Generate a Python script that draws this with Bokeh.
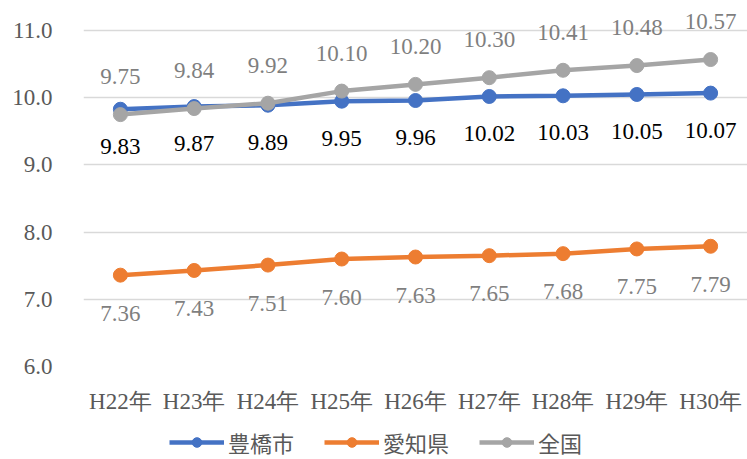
from bokeh.plotting import figure
from bokeh.layouts import column
from bokeh.models import ColumnDataSource, FactorRange, Range1d, FixedTicker, Legend, LegendItem, CustomJSTickFormatter
from bokeh.embed import file_html
from bokeh.resources import INLINE
from bokeh.core.properties import value

years = ["H22年", "H23年", "H24年", "H25年", "H26年", "H27年", "H28年", "H29年", "H30年"]
toyohashi = [9.83, 9.87, 9.89, 9.95, 9.96, 10.02, 10.03, 10.05, 10.07]
aichi = [7.36, 7.43, 7.51, 7.60, 7.63, 7.65, 7.68, 7.75, 7.79]
zenkoku = [9.75, 9.84, 9.92, 10.10, 10.20, 10.30, 10.41, 10.48, 10.57]
y_ticks = [6.0, 7.0, 8.0, 9.0, 10.0, 11.0]

FONT = "Liberation Serif"
TXT = "#595959"

p = figure(frame_width=664, frame_height=356,
           x_range=FactorRange(*years, range_padding=0),
           y_range=Range1d(6.0, 11.3), output_backend="svg", toolbar_location=None,
           min_border_left=83, min_border_right=0, min_border_top=10, min_border_bottom=0)
p.outline_line_color = None
p.background_fill_color = "white"

p.yaxis.ticker = FixedTicker(ticks=y_ticks)
p.yaxis.formatter = CustomJSTickFormatter(code="return tick.toFixed(1);")
for ax in (p.xaxis, p.yaxis):
    ax.axis_line_color = None
    ax.major_tick_line_color = None
    ax.minor_tick_line_color = None
    ax.major_tick_out = 0
    ax.major_tick_in = 0
    ax.major_label_text_font = FONT
    ax.major_label_text_color = TXT
    ax.major_label_text_font_size = "23px"
p.yaxis.major_label_standoff = 31
p.xaxis.major_label_standoff = 22

p.xgrid.grid_line_color = None
p.ygrid.grid_line_color = "#D9D9D9"
p.ygrid.grid_line_width = 1.3

series = [
    ("豊橋市", toyohashi, "#4472C4", "#000000", 37),
    ("愛知県", aichi, "#ED7D31", "#7F7F7F", 38),
    ("全国", zenkoku, "#A5A5A5", "#7F7F7F", -38),
]

# legend strip below the chart
lf = figure(width=747, height=44, output_backend="svg", toolbar_location=None,
            x_range=Range1d(0, 1), y_range=Range1d(0, 1),
            x_axis_type=None, y_axis_type=None,
            min_border_left=0, min_border_right=0, min_border_top=0, min_border_bottom=0)
lf.outline_line_color = None
lf.xgrid.grid_line_color = None
lf.ygrid.grid_line_color = None

items = []
for name, vals, col, lcol, off in series:
    src = ColumnDataSource(dict(x=years, y=vals, lab=[f"{v:.2f}" for v in vals]))
    p.line("x", "y", source=src, line_color=col, line_width=4.5)
    p.scatter("x", "y", source=src, size=14, fill_color=col, line_color=col)
    p.text("x", "y", text="lab", source=src, text_font=value(FONT), text_font_size="23px",
           text_color=lcol, text_align="center", text_baseline="middle", y_offset=off)
    # off-screen copies, only used to draw the legend glyphs
    hidden = ColumnDataSource(dict(x=[5, 6], y=[5, 6]))
    l = lf.line("x", "y", source=hidden, line_color=col, line_width=4.5)
    c = lf.scatter("x", "y", source=hidden, size=14, fill_color=col, line_color=col)
    items.append(LegendItem(label=name, renderers=[l, c]))

legend = Legend(items=items, orientation="horizontal", location=(86, 2),
                label_text_font="Noto Sans CJK JP", label_text_color=TXT,
                label_text_font_size="22px", glyph_width=55, glyph_height=24,
                label_height=24, spacing=30, padding=0, margin=0,
                border_line_color=None, background_fill_alpha=0,
                label_standoff=4)
lf.add_layout(legend)

layout = column(p, lf, spacing=0)
open("out.html", "w").write(file_html(layout, INLINE))
